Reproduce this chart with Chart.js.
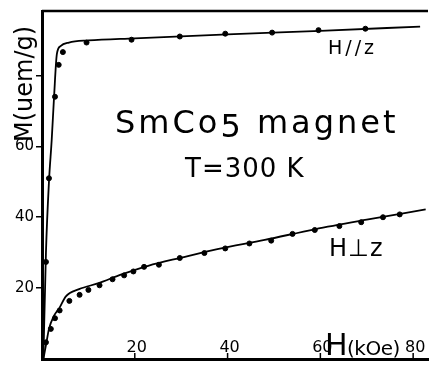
<!DOCTYPE html>
<html>
<head>
<meta charset="utf-8">
<script src="https://cdn.jsdelivr.net/npm/chart.js@4.4.0/dist/chart.umd.min.js"></script>
<style>
  html, body { margin: 0; padding: 0; background: #fff; }
  #wrap { width: 433px; height: 370px; }
</style>
</head>
<body>
<div id="wrap"><canvas id="myChart" width="433" height="370"></canvas></div>
<script>
// H // z : measured points and drawn curve
const parPoints = [
    [0.85, 27.4], [1.5, 51], [2.8, 74], [3.6, 83], [4.5, 86.6], [9.6, 89.3],
    [19.3, 90.1], [29.7, 91], [39.5, 91.8], [49.6, 92.1], [59.6, 92.8], [69.7, 93.2]
];
const parCurve = [
    [0.3, 0], [0.85, 30], [1.5, 50], [2.1, 62], [2.6, 74], [3.2, 86], [4, 88.3],
    [5.8, 89.3], [10, 89.9], [20, 90.5], [40, 91.6], [60, 92.6], [81.5, 93.8]
];
// H ⊥ z
const perpPoints = [
    [0.85, 4.7], [1.9, 8.5], [2.8, 11.5], [3.8, 13.7], [5.9, 16.4], [8.1, 18.1],
    [10, 19.5], [12.4, 20.8], [15.2, 22.5], [17.7, 23.6], [19.7, 24.7], [22, 26],
    [25.2, 26.6], [29.7, 28.5], [35, 29.9], [39.5, 31.2], [44.7, 32.6], [49.4, 33.4],
    [54, 35.3], [58.8, 36.4], [64.1, 37.5], [68.8, 38.6], [73.5, 40], [77.1, 40.8]
];
const perpCurve = [
    [0.3, 0], [1, 5], [1.5, 8.5], [2.5, 12], [3.8, 14.5], [5.1, 17.6], [8, 19.7],
    [12.2, 21.4], [17, 23.8], [22.9, 26.3], [30, 28.6], [37.8, 31], [48, 33.6],
    [58.8, 36.6], [70, 39.3], [82.7, 42.2]
];
const xTicks = [20, 40, 60, 80];
const yTicks = [20, 40, 60, 80];
const yLabels = ['20', '40', '60', ''];

const toXY = arr => arr.map(p => ({ x: p[0], y: p[1] }));

const annotations = {
    id: 'annotations',
    afterDraw(chart) {
        const ctx = chart.ctx;
        const area = chart.chartArea;
        const xs = chart.scales.x;
        ctx.save();
        ctx.fillStyle = '#000';
        ctx.strokeStyle = '#000';

        // top frame line
        ctx.lineWidth = 2.5;
        ctx.beginPath();
        ctx.moveTo(area.left, area.top);
        ctx.lineTo(area.right, area.top);
        ctx.stroke();

        // x ticks inside, labels above the axis
        ctx.lineWidth = 1.5;
        ctx.font = '16px "DejaVu Sans"';
        ctx.textAlign = 'center';
        ctx.textBaseline = 'alphabetic';
        xTicks.forEach(v => {
            const px = xs.getPixelForValue(v);
            ctx.beginPath();
            ctx.moveTo(px, area.bottom);
            ctx.lineTo(px, area.bottom - 6);
            ctx.stroke();
            ctx.fillText(String(v), px + 2, area.bottom - 7);
        });

        ctx.textAlign = 'left';
        ctx.letterSpacing = '3px';
        ctx.font = '32px "DejaVu Sans"';
        let x = 115;
        ctx.fillText('SmCo', x, 133);
        x += ctx.measureText('SmCo').width;
        ctx.fillText('5', x, 137);
        x += ctx.measureText('5').width;
        ctx.fillText(' magnet', x, 133);

        ctx.letterSpacing = '1px';
        ctx.font = '26px "DejaVu Sans"';
        ctx.fillText('T=300 K', 185, 177);

        ctx.letterSpacing = '3px';
        ctx.font = '19px "DejaVu Sans"';
        ctx.fillText('H//z', 328, 54);

        ctx.letterSpacing = '1px';
        ctx.font = '24px "DejaVu Sans"';
        ctx.fillText('H\u22A5z', 329, 256);

        ctx.letterSpacing = '0px';
        ctx.font = '30px "DejaVu Sans"';
        ctx.fillText('H', 325, 355);
        ctx.letterSpacing = '-0.5px';
        ctx.font = '20px "DejaVu Sans"';
        ctx.fillText('(kOe)', 347, 355);

        // y axis title
        ctx.letterSpacing = '0px';
        ctx.translate(32, 142);
        ctx.rotate(-Math.PI / 2);
        ctx.font = '24px "DejaVu Sans"';
        ctx.fillText('M(uem/g)', 0, 0);
        ctx.restore();
    }
};

const config = {
    type: 'scatter',
    data: {
        datasets: [
            {
                label: 'H//z curve',
                data: toXY(parCurve),
                showLine: true,
                borderColor: '#000',
                borderWidth: 1.8,
                pointRadius: 0,
                cubicInterpolationMode: 'monotone'
            },
            {
                label: 'H//z',
                data: toXY(parPoints),
                backgroundColor: '#000',
                borderColor: '#000',
                pointRadius: 2.5
            },
            {
                label: 'H⊥z curve',
                data: toXY(perpCurve),
                showLine: true,
                borderColor: '#000',
                borderWidth: 1.8,
                pointRadius: 0,
                cubicInterpolationMode: 'monotone'
            },
            {
                label: 'H⊥z',
                data: toXY(perpPoints),
                backgroundColor: '#000',
                borderColor: '#000',
                pointRadius: 2.5
            }
        ]
    },
    options: {
        responsive: false,
        animation: false,
        layout: { padding: { top: 10, right: 0, left: 0, bottom: 0 } },
        plugins: {
            legend: { display: false },
            tooltip: { enabled: false }
        },
        scales: {
            x: {
                type: 'linear',
                min: 0,
                max: 83.2,
                grid: { display: false },
                border: { display: true, color: '#000', width: 3 },
                ticks: { display: false },
                afterFit: s => { s.height = 2; }
            },
            y: {
                type: 'linear',
                min: 0,
                max: 98.2,
                afterBuildTicks: s => { s.ticks = yTicks.map(v => ({ value: v })); },
                grid: { drawOnChartArea: false, drawTicks: true, tickLength: 6, color: '#000', lineWidth: 1.5 },
                border: { display: true, color: '#000', width: 3 },
                ticks: {
                    color: '#000',
                    padding: 2,
                    font: { family: 'DejaVu Sans', size: 15 },
                    callback: (v) => yLabels[yTicks.indexOf(v)] ?? ''
                },
                afterFit: s => { s.width = 42; }
            }
        }
    },
    plugins: [annotations]
};

new Chart(document.getElementById('myChart').getContext('2d'), config);
</script>
</body>
</html>
